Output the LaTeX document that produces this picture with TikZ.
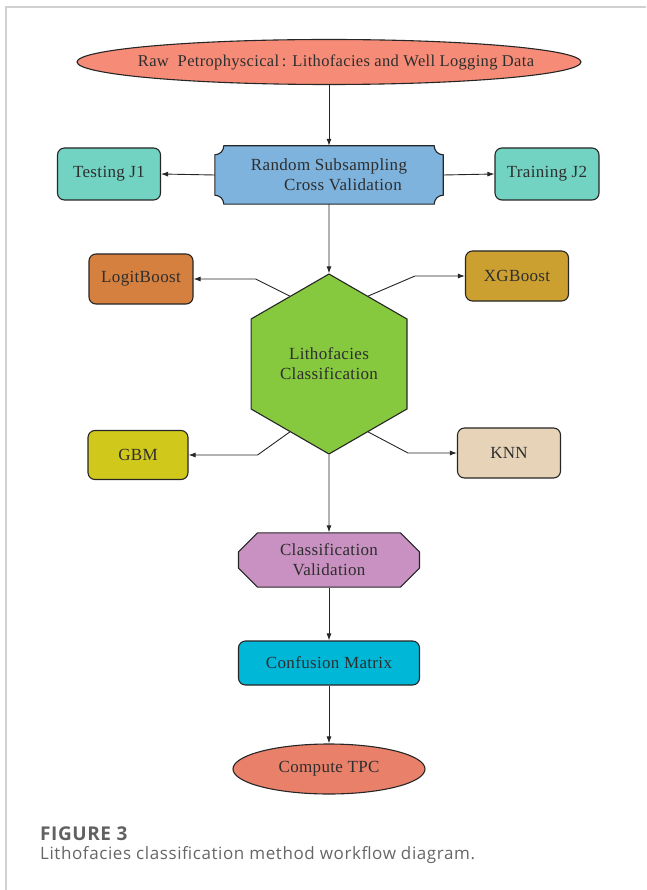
\documentclass[tikz,border=0pt]{standalone}
\usepackage{fontspec}
\setmainfont{Liberation Serif}[LetterSpace=2]
\newfontfamily\capfont{Open Sans}[LetterSpace=3.5]
\newfontfamily\figfont{Open Sans}[LetterSpace=3]
\usetikzlibrary{shapes.geometric,shapes.misc,arrows.meta,backgrounds}
\definecolor{rawc}{HTML}{F68C77}
\definecolor{tpcc}{HTML}{E8806A}
\definecolor{rssc}{HTML}{7EB3DE}
\definecolor{tstc}{HTML}{72D3C3}
\definecolor{logc}{HTML}{D5803E}
\definecolor{xgbc}{HTML}{CCA030}
\definecolor{hexc}{HTML}{86C83E}
\definecolor{gbmc}{HTML}{D0C81A}
\definecolor{knnc}{HTML}{E7D4B8}
\definecolor{cvc}{HTML}{C891C1}
\definecolor{cmc}{HTML}{00B7D8}
\definecolor{linec}{HTML}{262626}
\definecolor{txtc}{HTML}{2E2E2E}
\definecolor{framec}{HTML}{D0D0D0}
\definecolor{capc}{HTML}{666666}
\begin{document}
\begin{tikzpicture}[x=1pt,y=1pt,
  every node/.style={font=\fontsize{17}{20}\selectfont, text=txtc, align=center, inner sep=0pt},
  box/.style={draw=linec, line width=1.1pt, rounded corners=7pt, minimum width=#1, minimum height=50pt},
  box/.default=104pt,
  oval/.style={ellipse, draw=linec, line width=1.1pt},
  hexa/.style={regular polygon, regular polygon sides=6, shape border rotate=30,
    minimum size=180pt, draw=linec, line width=1.1pt, fill=hexc},
  arr/.style={draw=linec, line width=0.9pt, -{Latex[length=7pt,width=5pt]}},
  captext/.style={font=\capfont\fontsize{17}{19}\selectfont, text=capc, anchor=base west}]
\useasboundingbox (0,0) rectangle (646,-890);
\draw[framec, line width=1.5pt] (6,-890) -- (6,-7) -- (646,-7);

\node (raw) [oval, fill=rawc, minimum width=504pt, minimum height=45pt] at (329,-62) {};
\node (rawt) [font=\fontsize{16.5}{20}\selectfont] at ([xshift=7pt]raw.center)
  {Raw\ \ Petrophyscical\,: Lithofacies and Well Logging Data};
\node (rss) [minimum width=228pt, minimum height=58pt] at (329,-175)
  {Random Subsampling\\\hspace*{28pt}Cross Validation};
\begin{scope}[on background layer]
\draw[draw=linec, line width=1.1pt, fill=rssc]
  ([xshift=9pt]rss.north west) -- ([xshift=-9pt]rss.north east)
  arc[start angle=180, end angle=270, radius=9pt]
  -- ([yshift=9pt]rss.south east) arc[start angle=90, end angle=180, radius=9pt]
  -- ([xshift=9pt]rss.south west) arc[start angle=0, end angle=90, radius=9pt]
  -- ([yshift=-9pt]rss.north west) arc[start angle=270, end angle=360, radius=9pt]
  -- cycle;
\end{scope}
\node (test) [box=103pt, minimum height=52pt, fill=tstc] at (109,-174) {Testing J1};
\node (train) [box, minimum height=52pt, fill=tstc] at (547,-174) {Training J2};
\node (hex) [hexa] at (329,-364) {Lithofacies\\Classification};
\node (logit) [box, fill=logc] at (141,-279) {LogitBoost};
\node (xgb) [box=103pt, fill=xgbc] at (517,-276) {XGBoost};
\node (gbm) [box=100pt, minimum height=49pt, fill=gbmc] at (138,-455) {GBM};
\node (knn) [box=103pt, fill=knnc] at (509,-453) {KNN};
\node (cv) [chamfered rectangle, chamfered rectangle xsep=8pt, chamfered rectangle ysep=11pt,
  draw=linec, line width=1.1pt, fill=cvc, minimum width=181pt, minimum height=45pt] at (329,-560)
  {Classification\\Validation};
\node (cm) [box=181pt, minimum height=44pt, fill=cmc] at (329,-663) {Confusion Matrix};
\node (tpc) [oval, fill=tpcc, minimum width=192pt, minimum height=50pt] at (329,-769) {Compute TPC};

\draw[arr] (raw.south) -- (rss.north);
\draw[arr] (rss.west) -- (test.east);
\draw[arr] (rss.east) -- (train.west);
\draw[arr] (rss.south) -- (hex.90);
\draw[arr] (hex.120) -- ([xshift=62pt]logit.east) -- (logit.east);
\draw[arr] (hex.60) -- ([xshift=-50pt]xgb.west) -- (xgb.west);
\draw[arr] (hex.240) -- ([xshift=69pt]gbm.east) -- (gbm.east);
\draw[arr] (hex.300) -- ([xshift=-49pt]knn.west) -- (knn.west);
\draw[arr] (hex.270) -- (cv.north);
\draw[arr] (cv.south) -- (cm.north);
\draw[arr] (cm.south) -- (tpc.north);

\node (fig) [captext, font=\figfont\bfseries\fontsize{19}{19}\selectfont, text=black!62] at (40,-840) {FIGURE 3};
\node (caption) [captext] at (40,-859) {Lithofacies classification method workflow diagram.};
\end{tikzpicture}
\end{document}
